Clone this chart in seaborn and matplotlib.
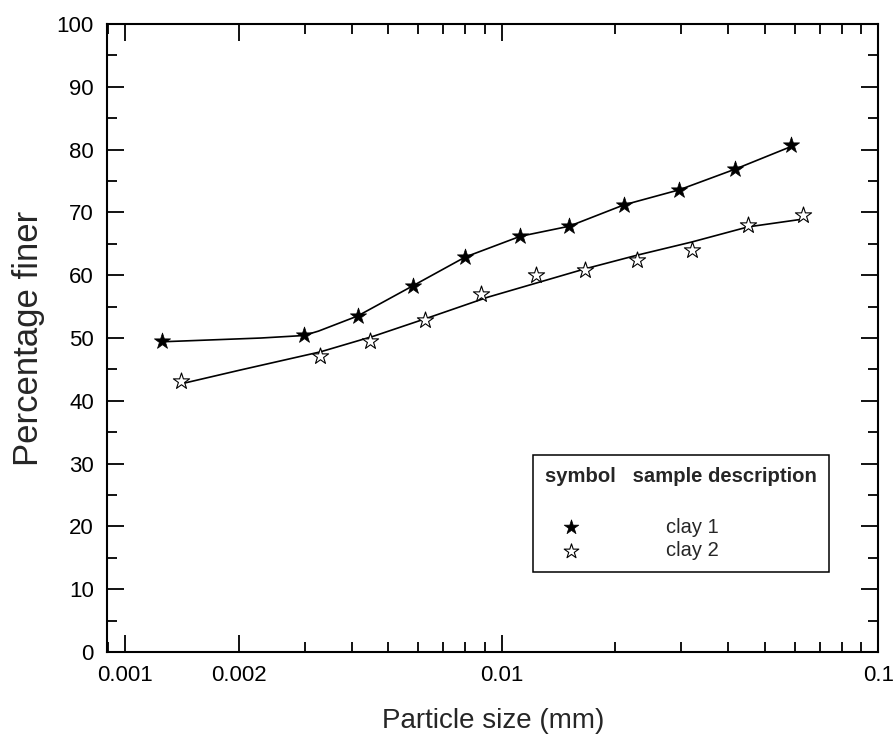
import numpy as np
import pandas as pd
import matplotlib
matplotlib.use("Agg")
import matplotlib.pyplot as plt
import matplotlib.ticker as mticker
import seaborn as sns

# ---- data ----
clay1_size = [0.00125, 0.00298, 0.00414, 0.0058, 0.0080, 0.0112, 0.0151, 0.0211, 0.0296, 0.0417, 0.0587]
clay1_pct = [49.5, 50.5, 53.5, 58.3, 62.9, 66.2, 67.8, 71.2, 73.6, 76.9, 80.7]
clay1_line_size = [0.00125, 0.00229, 0.00298, 0.00326, 0.00414, 0.0058, 0.0080, 0.0112, 0.0151, 0.0211, 0.0296, 0.0417, 0.0587]
clay1_line_pct = [49.4, 50.0, 50.4, 51.1, 53.5, 58.3, 62.9, 66.2, 67.8, 71.2, 73.6, 76.9, 80.5]

clay2_size = [0.00141, 0.0033, 0.00448, 0.00624, 0.0088, 0.0123, 0.0166, 0.0229, 0.0320, 0.0451, 0.0632]
clay2_pct = [43.2, 47.1, 49.5, 52.9, 57.0, 60.0, 60.8, 62.4, 64.0, 68.0, 69.6]
clay2_line_size = [0.00143, 0.00202, 0.0033, 0.00457, 0.00636, 0.00918, 0.0166, 0.0229, 0.0320, 0.0451, 0.0624]
clay2_line_pct = [42.8, 44.9, 47.8, 50.3, 53.2, 56.5, 61.0, 63.2, 65.3, 67.7, 68.9]

x_ticks = [0.001, 0.002, 0.01, 0.1]
x_tick_labels = ["0.001", "0.002", "0.01", "0.1"]
y_ticks = list(range(0, 101, 10))
sample_labels = ["clay 1", "clay 2"]

# ---- style ----
sns.set_style("ticks")
plt.rcParams["font.family"] = ["Liberation Sans", "DejaVu Sans"]
plt.rcParams["axes.linewidth"] = 1.5

fig = plt.figure(figsize=(8.95, 7.35), dpi=100)
ax = fig.add_axes([0.1196, 0.1129, 0.8618, 0.8544])

sns.lineplot(x=clay1_line_size, y=clay1_line_pct, sort=False, estimator=None,
             color="black", lw=1.2, ax=ax)
sns.lineplot(x=clay2_line_size, y=clay2_line_pct, sort=False, estimator=None,
             color="black", lw=1.2, ax=ax)
sns.scatterplot(x=clay1_size, y=clay1_pct, marker="*", s=150, color="black",
                edgecolor="black", linewidth=0.5, ax=ax, label=sample_labels[0], zorder=3)
sns.scatterplot(x=clay2_size, y=clay2_pct, marker="*", s=150, facecolor="white",
                edgecolor="black", linewidth=0.8, ax=ax, label=sample_labels[1], zorder=3)

ax.set_xscale("log")
ax.set_xlim(0.000895, 0.1)
ax.set_ylim(0, 100)
ax.set_xticks(x_ticks)
ax.set_xticklabels(x_tick_labels)
ax.xaxis.set_minor_locator(mticker.LogLocator(base=10, subs=np.arange(2, 10), numticks=20))
ax.xaxis.set_minor_formatter(mticker.NullFormatter())
ax.set_yticks(y_ticks)
ax.yaxis.set_minor_locator(mticker.MultipleLocator(5))

ax.tick_params(which="both", direction="in", top=True, right=True, width=1.3,
               colors="black", labelsize=16)
ax.tick_params(which="major", length=12, pad=9.5)
ax.tick_params(which="minor", length=7)
for s in ax.spines.values():
    s.set_visible(True)
    s.set_color("black")
    s.set_linewidth(1.5)

ax.set_xlabel("Particle size (mm)", fontsize=20, labelpad=16)
ax.set_ylabel("Percentage finer", fontsize=25, labelpad=8.5)

handles, labels = ax.get_legend_handles_labels()
leg = ax.legend(handles, labels, title="symbol   sample description\n",
                loc="upper left", bbox_to_anchor=(0.5525, 0.3137),
                fontsize=14.5, title_fontproperties={"weight": "bold", "size": 14.6},
                alignment="left", frameon=True, fancybox=False, framealpha=1,
                edgecolor="black", borderpad=0.6, handlelength=2.6,
                handletextpad=3.4, labelspacing=0.22, borderaxespad=0,
                markerscale=0.9)
leg.get_title().set_linespacing(1.55)
leg.get_frame().set_linewidth(1.1)

fig.savefig("out.png", dpi=100)
